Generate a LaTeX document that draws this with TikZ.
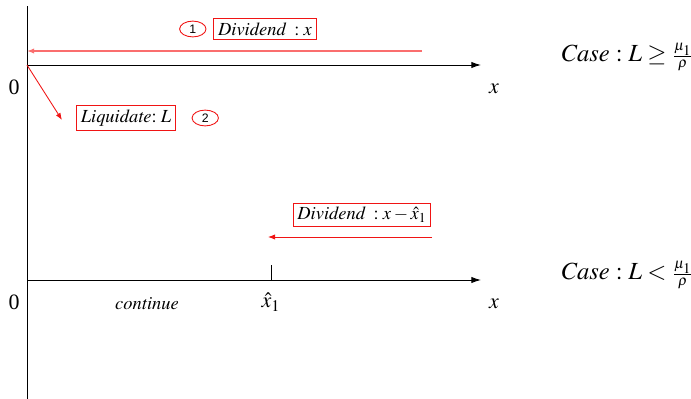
\documentclass[tikz,border=0pt]{standalone}
\usepackage{amsmath,amssymb}
\usepackage{mathptmx}
\usepackage[no-math]{fontspec}
\setmainfont{Liberation Serif}
\newfontfamily\numfont{Liberation Sans}
\usetikzlibrary{arrows.meta,shapes,positioning}
\definecolor{RedA}  {RGB}{240, 20,  20}
\definecolor{RedL}  {RGB}{250,110, 110}

\begin{document}
\begin{tikzpicture}[x=0.02cm,y=-0.02cm,
    axis/.style={black,line width=0.5pt},
    tip/.style={-{Latex[length=5.5pt,width=3.6pt]}},
    rtip/.style={-{Latex[length=4pt,width=3pt]}},
    rbox/.style={draw=RedA,line width=0.5pt,inner sep=2.4pt,font=\fontsize{10.5}{12}\selectfont},
    circ/.style={draw=RedA,ellipse,line width=0.5pt,minimum width=15pt,minimum height=9pt,inner sep=0pt,font=\numfont\scriptsize},
    lbl/.style={font=\fontsize{12.5}{14}\selectfont}]
        \useasboundingbox (0,0) rectangle (691,399);
        % vertical axis
        \coordinate (Vt) at (27,6);
        \coordinate (Vb) at (27,399);
        \draw[axis] (Vb)--(Vt);
        % upper case
        \coordinate (O1) at (27,65);
        \coordinate (X1) at (481,65);
        \draw[axis,tip] (O1)--(X1);
        \node[lbl] (zero1) at (14,87) {0};
        \node[lbl] (xlab1) at (494,89) {$x$};
        \coordinate (D1s) at (422,51);
        \coordinate (D1e) at (27,51);
        \draw[RedL,line width=0.8pt,rtip] (D1s)--(D1e);
        \node[rbox] (div1) at (265,29) {$\mathit{Dividend}\;\;{:}\;x$};
        \node[circ,left=4pt of div1] (c1) {1};
        \coordinate (L1) at (62,120);
        \draw[RedA,line width=0.5pt,rtip] (O1)--(L1);
        \node[rbox] (liq) at (126,118) {$\mathit{Liquidate}{:}\;L$};
        \node[circ,right=9pt of liq] (c2) {2};
        \node[lbl,font=\fontsize{14}{16}\selectfont] (case1) at (627,57)
          {$\mathit{Case}\ {:}\;L\geq\genfrac{}{}{}{2}{\mu_1}{\rho}$};
        % lower case
        \coordinate (O2) at (27,280);
        \coordinate (X2) at (481,280);
        \draw[axis,tip] (O2)--(X2);
        \coordinate (T2) at (271,265);
        \draw[axis] (T2)--(T2|-O2);
        \node[lbl] (zero2) at (14,302) {0};
        \node[lbl] (xlab2) at (494,304) {$x$};
        \node[lbl] (xhat) at (271,302) {$\hat{x}_1$};
        \node[font=\fontsize{10.5}{12}\selectfont] (cont) at (147,304) {$\mathit{continue}$};
        \coordinate (D2s) at (432,237);
        \coordinate (D2e) at (268,237);
        \draw[RedA,line width=0.5pt,rtip] (D2s)--(D2e);
        \node[rbox] (div2) at (362,215) {$\mathit{Dividend}\;\;{:}\;x\mathbin{-}\hat{x}_1$};
        \node[lbl,font=\fontsize{14}{16}\selectfont] (case2) at (627,275)
          {$\mathit{Case}\ {:}\;L<\genfrac{}{}{}{2}{\mu_1}{\rho}$};
      \end{tikzpicture}
\end{document}
